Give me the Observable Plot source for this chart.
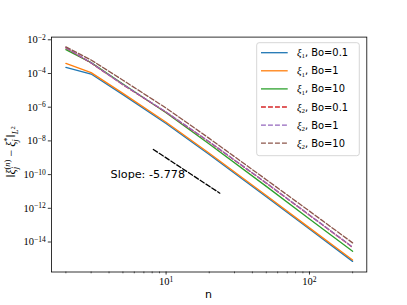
<!DOCTYPE html>
<html><head><meta charset="utf-8">
<script src="https://cdn.jsdelivr.net/npm/d3@7"></script>
<script src="https://cdn.jsdelivr.net/npm/@observablehq/plot@0.6"></script>
<style>html,body{margin:0;padding:0;background:#fff}svg{display:block}</style>
</head><body><div id="chart"></div>
<script>
// ---- data ----
const nValues = [2, 3, 5, 10, 20, 50, 100, 200];
const xi1Bo01 = [2.3e-4, 9.3e-5, 5.6e-6, 1.07e-7, 1.55e-9, 4.8e-12, 5.9e-14, 7.1e-16];
const xi1Bo1  = [4.0e-4, 1.12e-4, 6.6e-6, 1.29e-7, 1.86e-9, 5.8e-12, 6.9e-14, 8.5e-16];
const xi1Bo10 = [2.6e-3, 4.4e-4, 2.4e-5, 4.7e-7, 6.6e-9, 2.0e-11, 2.3e-13, 2.8e-15];
const xi2Bo01 = [3.3e-3, 4.2e-4, 2.15e-5, 5.0e-7, 8.6e-9, 3.1e-11, 3.9e-13, 4.8e-15];
const xi2Bo1  = [3.4e-3, 4.3e-4, 2.2e-5, 5.2e-7, 8.9e-9, 3.2e-11, 4.0e-13, 5.0e-15];
const xi2Bo10 = [3.8e-3, 6.3e-4, 4.0e-5, 8.9e-7, 1.41e-8, 5.0e-11, 6.8e-13, 8.9e-15];

const seriesValues = [xi1Bo01, xi1Bo1, xi1Bo10, xi2Bo01, xi2Bo1, xi2Bo10];
const seriesSub = ["1", "1", "1", "2", "2", "2"];
const seriesBo = ["Bo=0.1", "Bo=1", "Bo=10", "Bo=0.1", "Bo=1", "Bo=10"];
const seriesColors = ["#1f77b4", "#ff7f0e", "#2ca02c", "#d62728", "#9467bd", "#8c564b"];
const seriesDashed = [false, false, false, true, true, true];

const slopeN = [8.15, 23.7];
const slopeV = [3.1e-9, 7.9e-12];
const slopeLabel = "Slope: -5.778";
const slopeLabelPos = [4.1, 1e-10];

const xMajor = [10, 100];
const xMinor = [2,3,4,5,6,7,8,9,20,30,40,50,60,70,80,90,200];
const yMajor = [1e-2, 1e-4, 1e-6, 1e-8, 1e-10, 1e-12, 1e-14];
const xLabel = "n";

// ---- build ----
const rows = seriesValues.flatMap((vals, s) => vals.map((v, j) => ({n: nValues[j], v, s})));
const slopeRows = slopeN.map((n, i) => ({n, v: slopeV[i]}));
const dash = "4.9,2.1";
const expFmt = d => "10^" + Math.round(Math.log10(d));

const lineMarks = seriesValues.map((_, s) => Plot.line(rows.filter(r => r.s === s), {
  x: "n", y: "v", stroke: seriesColors[s], strokeWidth: 1.3,
  strokeDasharray: seriesDashed[s] ? dash : "none"
}));

const chart = Plot.plot({
  width: 407, height: 305,
  marginLeft: 50.9, marginRight: 40.7, marginTop: 36.6, marginBottom: 33.5,
  x: {type: "log", domain: [10 ** 0.2, 10 ** 2.4]},
  y: {type: "log", domain: [10 ** -15.78, 10 ** -1.84]},
  style: {fontFamily: "DejaVu Sans", background: "white", color: "black"},
  marks: [
    Plot.axisX({ticks: xMinor, tickSize: 1.8, strokeWidth: 0.6, tickFormat: () => "", label: null}),
    Plot.axisX({ticks: xMajor, tickSize: 3.1, tickPadding: 2.6, strokeWidth: 0.8, tickFormat: expFmt,
      fontFamily: "Liberation Serif", fontSize: 10.5, label: null}),
    Plot.axisY({ticks: yMajor, tickSize: 3.1, tickPadding: 2.6, strokeWidth: 0.8, tickFormat: expFmt,
      fontFamily: "Liberation Serif", fontSize: 10.5, label: null}),
    ...lineMarks,
    Plot.line(slopeRows, {x: "n", y: "v", stroke: "black", strokeWidth: 1.3, strokeDasharray: dash}),
    Plot.text([slopeLabel], {x: () => slopeLabelPos[0], y: () => slopeLabelPos[1], text: d => d,
      textAnchor: "start", fontSize: 11.2, fontFamily: "DejaVu Sans", fill: "black"}),
    Plot.frame({stroke: "black", strokeWidth: 0.8})
  ]
});
document.getElementById("chart").append(chart);

// superscripts on tick labels
const svg = d3.select(chart);
svg.selectAll("text").each(function() {
  const t = this.textContent;
  const m = /^10\^(-?\d+)$/.exec(t);
  if (!m) return;
  const el = d3.select(this);
  el.text("10");
  el.append("tspan").attr("dy", "-0.45em").attr("font-size", "0.72em").text(m[1].replace("-", "\u2212"));
});

// x label
svg.append("text").attr("x", 208.6).attr("y", 298).attr("text-anchor", "middle")
  .attr("font-family", "DejaVu Sans").attr("font-size", 11).attr("fill", "black").text(xLabel);

// y label (math)
const yl = svg.append("text").attr("transform", "translate(15,152) rotate(-90)")
  .attr("text-anchor", "middle").attr("font-family", "Liberation Serif").attr("font-size", 12).attr("fill", "black");
yl.append("tspan").text("\u2016");
yl.append("tspan").attr("font-style", "italic").text("\u03BE");
yl.append("tspan").attr("font-size", 8.5).attr("font-style", "italic").attr("dy", 3).text("j");
yl.append("tspan").attr("font-size", 8.5).attr("dx", -2.5).attr("dy", -8).text("(");
yl.append("tspan").attr("font-size", 8.5).attr("font-style", "italic").text("n");
yl.append("tspan").attr("font-size", 8.5).text(")");
yl.append("tspan").attr("dy", 5).text(" \u2212 ");
yl.append("tspan").attr("font-style", "italic").text("\u03BE");
yl.append("tspan").attr("font-size", 8.5).attr("font-style", "italic").attr("dy", 3).text("j");
yl.append("tspan").attr("font-size", 8.5).attr("dx", -2.5).attr("dy", -8).text("*");
yl.append("tspan").attr("dy", 5).text("\u2016");
yl.append("tspan").attr("font-size", 8.5).attr("font-style", "italic").attr("dy", 3).text("L");
yl.append("tspan").attr("font-size", 6.5).attr("dy", -3.5).text("2");

// legend
const lg = svg.append("g").attr("text-anchor", "start");
lg.append("rect").attr("x", 256.7).attr("y", 42.7).attr("width", 102.6).attr("height", 113)
  .attr("rx", 2.5).attr("fill", "white").attr("fill-opacity", 0.8)
  .attr("stroke", "#cccccc").attr("stroke-width", 0.8);
seriesColors.forEach((c, i) => {
  const y = 52.7 + i * 18.1;
  lg.append("line").attr("x1", 261).attr("x2", 287.7).attr("y1", y).attr("y2", y)
    .attr("stroke", c).attr("stroke-width", 1.3)
    .attr("stroke-dasharray", seriesDashed[i] ? dash : null);
  const t = lg.append("text").attr("x", 297).attr("y", y + 3.5).attr("font-size", 9.9)
    .attr("text-anchor", "start").attr("font-family", "DejaVu Sans").attr("fill", "black");
  t.append("tspan").attr("font-family", "Liberation Serif").attr("font-style", "italic").attr("font-size", 10.5).text("\u03BE");
  t.append("tspan").attr("font-family", "Liberation Serif").attr("font-size", 7).attr("dy", 2.2).text(seriesSub[i]);
  t.append("tspan").attr("dy", -2.2).text(", " + seriesBo[i]);
});
</script>
</body></html>
